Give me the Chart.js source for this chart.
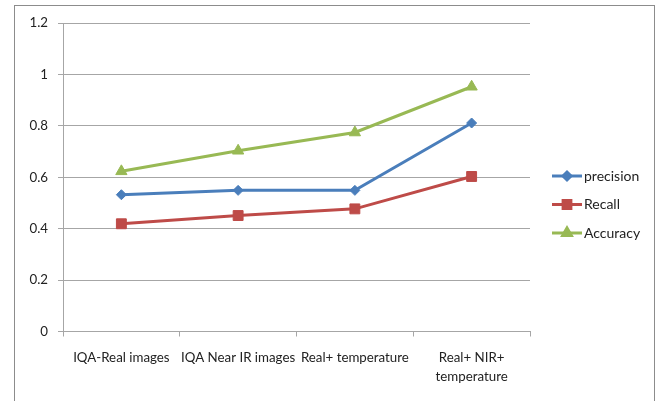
<!DOCTYPE html>
<html>
<head>
<meta charset="utf-8">
<script src="https://cdn.jsdelivr.net/npm/chart.js@4/dist/chart.umd.min.js"></script>
<style>
  html, body { margin: 0; padding: 0; background: #fff; }
  #wrap { width: 660px; height: 401px; position: relative; }
</style>
</head>
<body>
<div id="wrap"><canvas id="c" width="660" height="401"></canvas></div>
<script>
// Evaluation setups on the x axis
const categories = [
  'IQA-Real images',
  'IQA Near IR images',
  'Real+ temperature',
  ['Real+ NIR+', 'temperature']
];
// Scores per setup
const precision = [0.532, 0.549, 0.549, 0.811];
const recall    = [0.419, 0.451, 0.477, 0.603];
const accuracy  = [0.623, 0.703, 0.774, 0.952];
// Value axis ticks
const yTicks = [0, 0.2, 0.4, 0.6, 0.8, 1, 1.2];

const FONT = 'Lato, "Open Sans", sans-serif';
const GRID = '#a6a6a6';

// Outer frame around the chart
const framePlugin = {
  id: 'frame',
  beforeDraw(chart) {
    const ctx = chart.ctx;
    ctx.save();
    ctx.strokeStyle = '#8c8c8c';
    ctx.lineWidth = 1;
    ctx.strokeRect(14.5, 5.5, 640, 420);
    ctx.restore();
  }
};

// Legend with line + marker samples, stacked on the right
const sideLegend = {
  id: 'sideLegend',
  afterDraw(chart) {
    const ctx = chart.ctx;
    const x0 = 552, x1 = 582, yStart = 176, step = 28.5;
    chart.data.datasets.forEach((ds, i) => {
      const y = yStart + i * step;
      ctx.save();
      ctx.strokeStyle = ds.borderColor;
      ctx.lineWidth = 3;
      ctx.beginPath();
      ctx.moveTo(x0, y);
      ctx.lineTo(x1, y);
      ctx.stroke();
      ctx.fillStyle = ds.borderColor;
      ctx.strokeStyle = ds.borderColor;
      const opts = { pointStyle: ds.pointStyle, rotation: 0, borderWidth: 1, radius: ds.legendRadius };
      Chart.helpers.drawPoint(ctx, opts, (x0 + x1) / 2, y);
      ctx.fillStyle = '#222';
      ctx.font = '14px ' + FONT;
      ctx.textBaseline = 'middle';
      ctx.textAlign = 'left';
      ctx.fillText(ds.label, x1 + 2, y);
      ctx.restore();
    });
  }
};

new Chart(document.getElementById('c'), {
  type: 'line',
  data: {
    labels: categories,
    datasets: [
      {
        label: 'precision', data: precision,
        borderColor: '#4a7ebb', backgroundColor: '#4a7ebb',
        pointStyle: 'rectRot', pointRadius: 5, legendRadius: 4
      },
      {
        label: 'Recall', data: recall,
        borderColor: '#be4b48', backgroundColor: '#be4b48',
        pointStyle: 'rect', pointRadius: 7, legendRadius: 5.5
      },
      {
        label: 'Accuracy', data: accuracy,
        borderColor: '#98b954', backgroundColor: '#98b954',
        pointStyle: 'triangle', pointRadius: 6.5, legendRadius: 5
      }
    ]
  },
  options: {
    responsive: false,
    animation: false,
    devicePixelRatio: 1,
    layout: { padding: { left: 0, right: 130, top: 23, bottom: 0 } },
    elements: {
      line: { borderWidth: 3, tension: 0 },
      point: { borderWidth: 1, hoverRadius: 6 }
    },
    plugins: {
      legend: { display: false },
      tooltip: { enabled: false }
    },
    scales: {
      x: {
        offset: true,
        afterFit(s) { s.height = 69.5; },
        grid: {
          offset: true, drawOnChartArea: false, drawTicks: true,
          tickLength: 5, color: GRID
        },
        border: { display: true, color: GRID, width: 1 },
        ticks: {
          color: '#222', padding: 12, maxRotation: 0, autoSkip: false,
          font: { family: FONT, size: 13.3, lineHeight: 1.42 }
        }
      },
      y: {
        min: 0, max: 1.2,
        afterFit(s) { s.width = 63; },
        afterBuildTicks(s) { s.ticks = yTicks.map(v => ({ value: v })); },
        grid: { color: GRID, tickLength: 5, drawTicks: true },
        border: { display: true, color: GRID, width: 1 },
        ticks: {
          color: '#222', padding: 10,
          font: { family: FONT, size: 13.3 },
          callback: v => String(Math.round(v * 10) / 10)
        }
      }
    }
  },
  plugins: [framePlugin, sideLegend]
});
</script>
</body>
</html>
